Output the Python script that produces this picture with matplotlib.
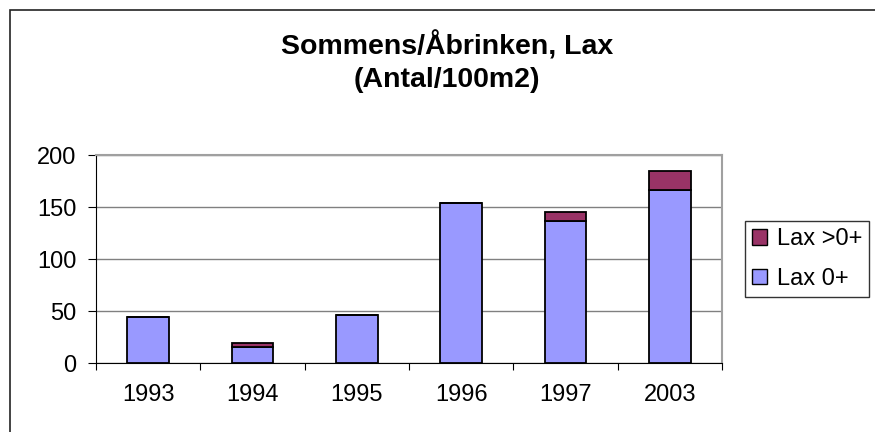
import matplotlib.pyplot as plt
from matplotlib.patches import Rectangle, Patch

years = ["1993", "1994", "1995", "1996", "1997", "2003"]
lax_0 = [44, 15, 46, 154, 137, 166]
lax_over0 = [0, 4, 0, 0, 8, 19]

plt.rcParams['font.family'] = ['Liberation Sans', 'DejaVu Sans']

W, H = 875, 432
fig = plt.figure(figsize=(W / 100, H / 100), dpi=100)

# outer chart border (only left/top visible in the crop)
fig.patches.append(Rectangle((10 / W, -0.1), 1.2, 1 - 10 / H + 0.1,
                             transform=fig.transFigure, fill=False,
                             edgecolor='#222222', linewidth=1.2))

ax = fig.add_axes([96 / W, (H - 363) / H, (722 - 96) / W, (363 - 155) / H])
x = range(len(years))
ax.bar(x, lax_0, width=0.4, color='#9999FF', edgecolor='black', linewidth=1.3,
       zorder=3, label='Lax 0+')
ax.bar(x, lax_over0, width=0.4, bottom=lax_0, color='#993366', edgecolor='black',
       linewidth=1.3, zorder=3, label='Lax >0+')

ax.set_xlim(-0.5, len(years) - 0.5)
ax.set_ylim(0, 200)
ax.set_yticks([0, 50, 100, 150, 200])
ax.yaxis.grid(True, color='#808080', linewidth=1.0, zorder=0)
ax.set_xticks(x)
ax.set_xticklabels(years, fontsize=17)
ax.tick_params(axis='x', length=0, pad=15)
ax.set_xticks([i - 0.5 for i in range(len(years) + 1)], minor=True)
ax.tick_params(axis='x', which='minor', length=5, direction='out', width=0.8)
ax.tick_params(axis='y', labelsize=17, length=6, direction='out', width=0.8, pad=8)

for side in ['top', 'right']:
    ax.spines[side].set_color('#A0A0A0')
    ax.spines[side].set_linewidth(1.5)
ax.spines['left'].set_color('black')
ax.spines['bottom'].set_color('black')

fig.text(447 / W, 1 - 46 / H, "Sommens/Åbrinken, Lax", ha='center', va='center',
         fontsize=20.5, fontweight='bold')
fig.text(447 / W, 1 - 80 / H, "(Antal/100m2)", ha='center', va='center',
         fontsize=20.5, fontweight='bold')

handles = [Patch(facecolor='#993366', edgecolor='black'),
           Patch(facecolor='#9999FF', edgecolor='black')]
leg = fig.legend(handles, ['Lax >0+', 'Lax 0+'], loc='upper left',
                 bbox_to_anchor=(745 / W, 1 - 221 / H), fontsize=17,
                 frameon=True, fancybox=False, handlelength=0.65, handleheight=0.65,
                 handletextpad=0.4, labelspacing=0.75, borderpad=0.3,
                 borderaxespad=0)
leg.get_frame().set_edgecolor('black')
leg.get_frame().set_linewidth(1.0)

fig.savefig("out.png", dpi=100)
